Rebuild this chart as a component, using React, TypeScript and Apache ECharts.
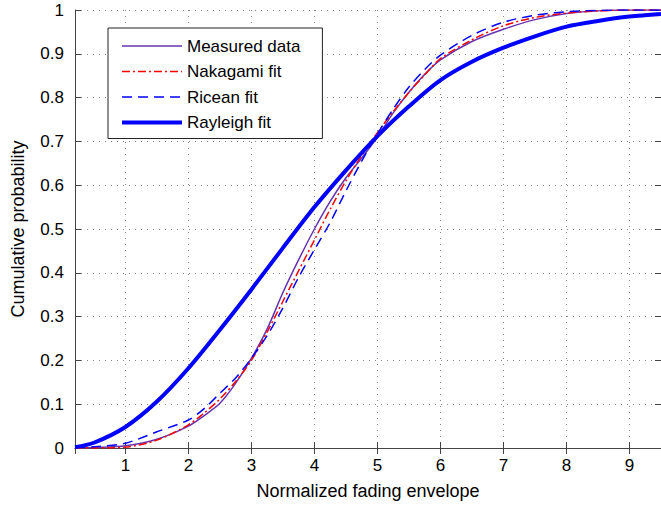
import React, { useEffect, useRef } from "react";
import * as echarts from "echarts";

// Shared x positions for the measured data and the Nakagami / Ricean fits
const fitX = [0.2, 0.5, 1, 1.5, 2, 2.25, 2.5, 2.75, 3, 3.25, 3.5, 3.75, 4, 4.25, 4.5, 4.75, 5, 5.25, 5.5, 5.75, 6, 6.5, 7, 7.5, 8, 8.5, 9, 9.5];
const measured = [0, 0.001, 0.005, 0.02, 0.05, 0.074, 0.102, 0.148, 0.205, 0.272, 0.355, 0.43, 0.5, 0.563, 0.617, 0.662, 0.71, 0.765, 0.812, 0.853, 0.886, 0.928, 0.956, 0.978, 0.992, 0.998, 1, 1];
const nakagami = [0, 0, 0.002, 0.018, 0.053, 0.08, 0.112, 0.152, 0.2, 0.265, 0.335, 0.405, 0.475, 0.545, 0.61, 0.668, 0.72, 0.768, 0.812, 0.852, 0.889, 0.932, 0.964, 0.983, 0.993, 0.998, 1, 1];
const ricean = [0.001, 0.003, 0.011, 0.037, 0.064, 0.09, 0.125, 0.16, 0.205, 0.257, 0.32, 0.39, 0.453, 0.515, 0.587, 0.655, 0.717, 0.774, 0.824, 0.864, 0.897, 0.942, 0.972, 0.988, 0.996, 0.999, 1, 1];

const rayleighX = [0.2, 0.5, 1, 1.5, 2, 2.5, 3, 3.5, 4, 4.5, 5, 5.5, 6, 6.5, 7, 7.5, 8, 8.5, 9, 9.5];
const rayleigh = [0.002, 0.012, 0.048, 0.106, 0.182, 0.27, 0.362, 0.457, 0.55, 0.634, 0.712, 0.78, 0.84, 0.882, 0.914, 0.94, 0.962, 0.975, 0.985, 0.991];

const seriesNames = ["Measured data", "Nakagami fit", "Ricean fit", "Rayleigh fit"];
const xTitle = "Normalized fading envelope";
const yTitle = "Cumulative probability";

const FONT = "'Liberation Sans', Arial, Helvetica, sans-serif";

function pairs(xs: number[], ys: number[]) {
  return xs.map((x, i) => [x, ys[i]]);
}

export default function App() {
  const ref = useRef<HTMLDivElement>(null);
  useEffect(() => {
    if (!ref.current) return;
    const chart = echarts.init(ref.current, null, { renderer: "svg" });
    const axisLineColor = "#444";
    const gridLine = { show: true, lineStyle: { color: "#888", width: 1, type: [1, 5] as any } };
    chart.setOption({
      animation: false,
      backgroundColor: "#fff",
      textStyle: { fontFamily: FONT },
      grid: { left: 75, top: 10, width: 587, height: 438, containLabel: false },
      legend: {
        orient: "vertical",
        left: 108,
        top: 28,
        padding: [9.5, 22, 7.5, 12],
        itemWidth: 60,
        itemHeight: 14,
        itemGap: 8.5,
        backgroundColor: "#fff",
        borderColor: "#222",
        borderWidth: 1,
        borderRadius: 0,
        textStyle: { fontSize: 17, color: "#000", fontFamily: FONT },
        lineStyle: { width: "inherit" as any, type: "inherit" as any },
        itemStyle: { color: "rgba(0,0,0,0)", borderColor: "rgba(0,0,0,0)", borderWidth: 0, opacity: 0 },
        data: seriesNames,
      },
      xAxis: [
        {
          type: "value",
          min: 0.2,
          max: 9.5,
          minInterval: 1,
          maxInterval: 1,
          name: xTitle,
          nameLocation: "middle",
          nameGap: 34,
          nameTextStyle: { fontSize: 18, color: "#000", fontFamily: FONT },
          axisLine: { show: true, lineStyle: { color: axisLineColor, width: 1 } },
          axisTick: { show: true, inside: true, length: 6, lineStyle: { color: axisLineColor } },
          axisLabel: { show: true, fontSize: 17, color: "#000", margin: 9, showMinLabel: false, showMaxLabel: false, fontFamily: FONT },
          splitLine: gridLine,
        },
        {
          type: "value",
          position: "top",
          min: 0.2,
          max: 9.5,
          minInterval: 1,
          maxInterval: 1,
          axisLine: { show: true, lineStyle: { color: axisLineColor, width: 1 } },
          axisTick: { show: true, inside: true, length: 6, lineStyle: { color: axisLineColor } },
          axisLabel: { show: false },
          splitLine: { show: false },
        },
      ],
      yAxis: [
        {
          type: "value",
          min: 0,
          max: 1,
          interval: 0.1,
          name: yTitle,
          nameLocation: "middle",
          nameGap: 48,
          nameTextStyle: { fontSize: 18, color: "#000", fontFamily: FONT },
          axisLine: { show: true, lineStyle: { color: axisLineColor, width: 1 } },
          axisTick: { show: true, inside: true, length: 6, lineStyle: { color: axisLineColor } },
          axisLabel: { show: true, fontSize: 17, color: "#000", margin: 11, fontFamily: FONT },
          splitLine: gridLine,
        },
        {
          type: "value",
          position: "right",
          min: 0,
          max: 1,
          interval: 0.1,
          axisLine: { show: true, lineStyle: { color: axisLineColor, width: 1 } },
          axisTick: { show: true, inside: true, length: 6, lineStyle: { color: axisLineColor } },
          axisLabel: { show: false },
          splitLine: { show: false },
        },
      ],
      series: [
        {
          name: seriesNames[0],
          type: "line",
          data: pairs(fitX, measured),
          symbol: "none",
          smooth: 0.3,
          lineStyle: { color: "#6633b0", width: 1.5, type: "solid" },
          itemStyle: { color: "#6633b0" },
          z: 2,
        },
        {
          name: seriesNames[1],
          type: "line",
          data: pairs(fitX, nakagami),
          symbol: "none",
          smooth: 0.3,
          lineStyle: { color: "#ff0000", width: 1.5, type: [8, 3, 2, 3] },
          itemStyle: { color: "#ff0000" },
          z: 3,
        },
        {
          name: seriesNames[2],
          type: "line",
          data: pairs(fitX, ricean),
          symbol: "none",
          smooth: 0.3,
          lineStyle: { color: "#0000ff", width: 1.5, type: [10, 6] },
          itemStyle: { color: "#0000ff" },
          z: 4,
        },
        {
          name: seriesNames[3],
          type: "line",
          data: pairs(rayleighX, rayleigh),
          symbol: "none",
          smooth: 0.3,
          lineStyle: { color: "#0000ff", width: 4, type: "solid" },
          itemStyle: { color: "#0000ff" },
          z: 5,
        },
      ],
    });
    return () => chart.dispose();
  }, []);
  return (
    <div
      ref={ref}
      style={{ position: "fixed", left: 0, top: 0, width: 661, height: 508, background: "#fff" }}
    />
  );
}
